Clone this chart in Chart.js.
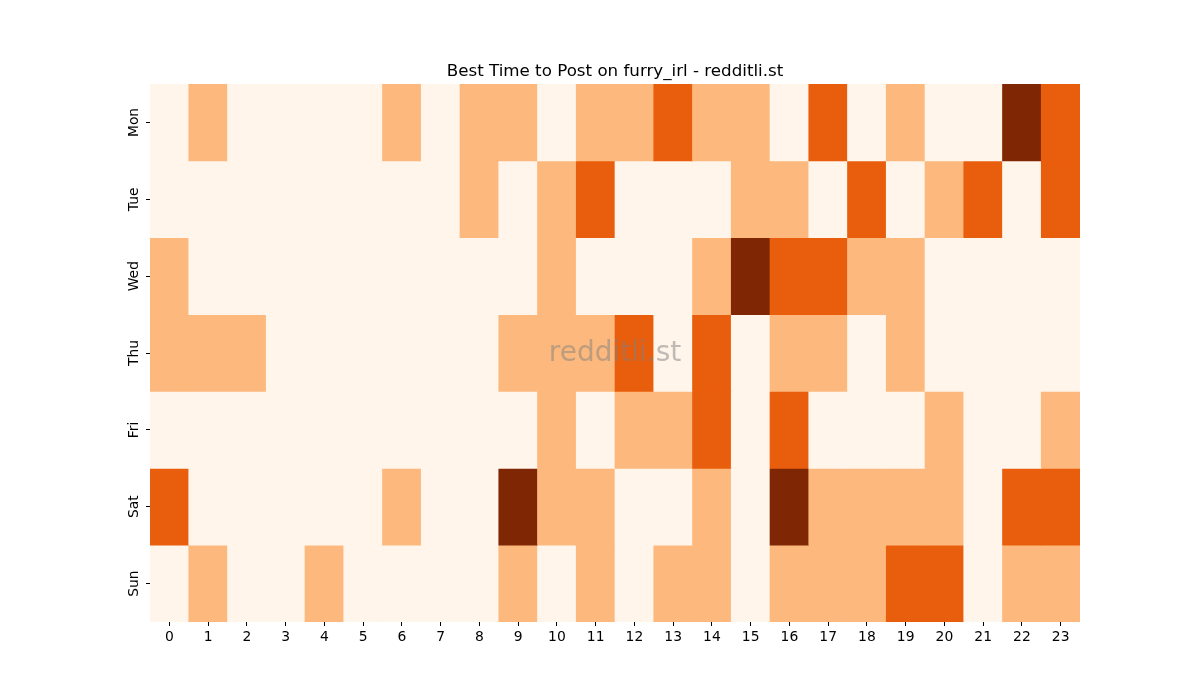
<!DOCTYPE html>
<html>
<head>
<meta charset="utf-8">
<script src="https://cdn.jsdelivr.net/npm/chart.js@4"></script>
<style>
html,body{margin:0;padding:0;background:#fff;}
#wrap{width:1200px;height:700px;}
</style>
</head>
<body>
<div id="wrap"><canvas id="c" width="1200" height="700"></canvas></div>
<script>
const hours = ['0','1','2','3','4','5','6','7','8','9','10','11','12','13','14','15','16','17','18','19','20','21','22','23'];
const days = ['Mon','Tue','Wed','Thu','Fri','Sat','Sun'];
const mon = [0,1,0,0,0,0,1,0,1,1,0,1,1,2,1,1,0,2,0,1,0,0,3,2];
const tue = [0,0,0,0,0,0,0,0,1,0,1,2,0,0,0,1,1,0,2,0,1,2,0,2];
const wed = [1,0,0,0,0,0,0,0,0,0,1,0,0,0,1,3,2,2,1,1,0,0,0,0];
const thu = [1,1,1,0,0,0,0,0,0,1,1,1,2,0,2,0,1,1,0,1,0,0,0,0];
const fri = [0,0,0,0,0,0,0,0,0,0,1,0,1,1,2,0,2,0,0,0,1,0,0,1];
const sat = [2,0,0,0,0,0,1,0,0,3,1,1,0,0,1,0,3,1,1,1,1,0,2,2];
const sun = [0,1,0,0,1,0,0,0,0,1,0,1,0,1,1,0,1,1,1,2,2,0,1,1];
const rows = [mon, tue, wed, thu, fri, sat, sun];
const palette = ['#fff5eb','#fdb97d','#e95e0d','#7f2704'];

const datasets = rows.map((vals, r) => ({
  label: days[r],
  data: vals.map(() => [r, r + 1]),
  backgroundColor: vals.map(v => palette[v]),
  borderWidth: 0,
  borderSkipped: false,
  barPercentage: 1.0,
  categoryPercentage: 1.0
}));

const watermark = {
  id: 'watermark',
  afterDatasetsDraw(chart) {
    const a = chart.chartArea;
    const ctx = chart.ctx;
    ctx.save();
    ctx.font = '28px "DejaVu Sans"';
    ctx.fillStyle = 'rgba(128,128,128,0.5)';
    ctx.textAlign = 'center';
    ctx.textBaseline = 'middle';
    ctx.fillText('redditli.st', (a.left + a.right) / 2, (a.top + a.bottom) / 2 + 1);
    ctx.restore();
  }
};

new Chart(document.getElementById('c'), {
  type: 'bar',
  data: { labels: hours, datasets },
  options: {
    responsive: false,
    animation: false,
    layout: { padding: { left: 0, right: 120, top: 0, bottom: 38 } },
    plugins: {
      legend: { display: false },
      tooltip: { enabled: false },
      title: {
        display: true,
        fullSize: false,
        text: 'Best Time to Post on furry_irl - redditli.st',
        color: '#000',
        font: { family: 'DejaVu Sans', size: 16.7, weight: 'normal' },
        padding: { top: 62, bottom: 2 }
      }
    },
    scales: {
      x: {
        type: 'category',
        stacked: true,
        offset: true,
        grid: { display: true, drawOnChartArea: false, drawTicks: true, tickLength: 4, color: '#000', offset: false },
        border: { display: false },
        ticks: { color: '#000', font: { family: 'DejaVu Sans', size: 13.9 }, padding: 3, maxRotation: 0, minRotation: 0, autoSkip: false },
        afterFit(s) { s.height = 40; }
      },
      y: {
        type: 'linear',
        reverse: true,
        min: 0,
        max: 7,
        grid: { display: true, drawOnChartArea: false, drawTicks: true, tickLength: 4, color: '#000' },
        border: { display: false },
        afterBuildTicks(s) { s.ticks = days.map((d, i) => ({ value: i + 0.5 })); },
        ticks: {
          color: '#000',
          font: { family: 'DejaVu Sans', size: 13.9 },
          padding: -3.5,
          minRotation: 90,
          maxRotation: 90,
          crossAlign: 'center',
          autoSkip: false,
          callback(v) { return days[Math.floor(v)]; }
        },
        afterFit(s) { s.width = 150; }
      }
    }
  },
  plugins: [watermark]
});
</script>
</body>
</html>
